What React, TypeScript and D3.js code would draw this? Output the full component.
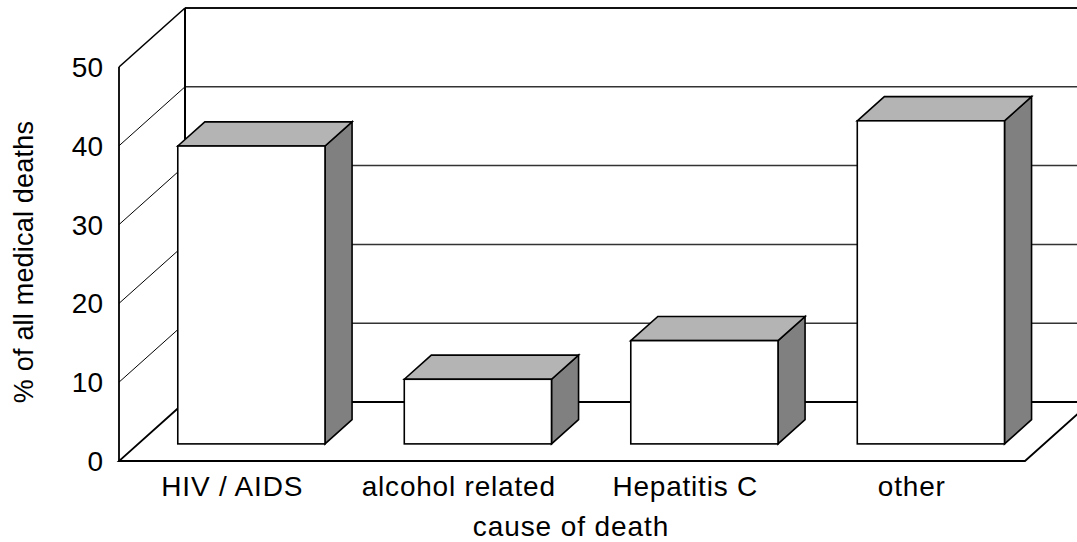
import React from 'react';
import * as d3 from 'd3';

// data
const categories = ['HIV / AIDS', 'alcohol related', 'Hepatitis C', 'other'];
const deathShare = [37.8, 8.2, 13.1, 41.0];
const yTicks = [0, 10, 20, 30, 40, 50];

const W = 1077, H = 542;
const font = '"Liberation Sans", Arial, sans-serif';

export default function App() {
    // front plane scales
    const x = d3.scaleBand<string>()
        .domain(categories)
        .range([119, 1025])
        .paddingInner(0.35)
        .paddingOuter(0.175);
    const y = d3.scaleLinear().domain([0, 50]).range([461, 67]);

    // depth: 0 = front, 1 = back wall
    const dx = d3.scaleLinear().domain([0, 1]).range([0, 66]);
    const dy = d3.scaleLinear().domain([0, 1]).range([0, -59]);
    const barFront = 0.29, barBack = 0.7;

    const [x0, x1] = x.range();
    const yTop = y(50), yBottom = y(0);
    const bx = dx(1), by = dy(1);

    const pts = (p: number[][]) => p.map(d => d.join(',')).join(' ');

    return (
        <svg width={W} height={H} style={{ position: 'absolute', left: 0, top: 0, background: '#fff' }}>
            {/* back wall gridlines */}
            {yTicks.filter(t => t > 0 && t < 50).map(t => (
                <line key={'g' + t} x1={x0 + bx} x2={x1 + bx} y1={y(t) + by} y2={y(t) + by}
                    stroke="#333" strokeWidth={1.5} />
            ))}
            <line x1={x0 + bx} x2={x1 + bx} y1={yTop + by} y2={yTop + by} stroke="#111" strokeWidth={1.8} />
            {/* side wall gridlines */}
            {yTicks.filter(t => t > 0 && t < 50).map(t => (
                <line key={'s' + t} x1={x0} x2={x0 + bx} y1={y(t)} y2={y(t) + by}
                    stroke="#000" strokeWidth={1} />
            ))}
            <line x1={x0} x2={x0 + bx} y1={yTop} y2={yTop + by} stroke="#000" strokeWidth={1.6} />
            <line x1={x0 + bx} x2={x0 + bx} y1={yTop + by} y2={yBottom + by} stroke="#000" strokeWidth={2} />
            <line x1={x0} x2={x0} y1={yTop} y2={yBottom} stroke="#000" strokeWidth={1.8} />
            {/* floor */}
            <polygon points={pts([[x0, yBottom], [x1, yBottom], [x1 + bx, yBottom + by], [x0 + bx, yBottom + by]])}
                fill="none" stroke="#000" strokeWidth={1.8} strokeLinejoin="miter" />

            {/* bars */}
            {categories.map((c, i) => {
                const left = x(c)! + dx(barFront);
                const right = left + x.bandwidth();
                const bottom = y(0) + dy(barFront);
                const top = y(deathShare[i]) + dy(barFront);
                const ox = dx(barBack) - dx(barFront);
                const oy = dy(barBack) - dy(barFront);
                return (
                    <g key={c} stroke="#000" strokeWidth={1.6} strokeLinejoin="miter">
                        <polygon points={pts([[right, top], [right + ox, top + oy], [right + ox, bottom + oy], [right, bottom]])}
                            fill="#808080" />
                        <polygon points={pts([[left, top], [left + ox, top + oy], [right + ox, top + oy], [right, top]])}
                            fill="#b4b4b4" />
                        <rect x={left} y={top} width={right - left} height={bottom - top} fill="#fff" />
                    </g>
                );
            })}

            {/* y tick labels */}
            {yTicks.map(t => (
                <text key={'t' + t} x={103} y={y(t)} dy="0.36em" textAnchor="end"
                    fontFamily={font} fontSize={28} fill="#000">{t}</text>
            ))}
            {/* category labels */}
            {categories.map(c => (
                <text key={'c' + c} x={x(c)! + x.bandwidth() / 2} y={496} textAnchor="middle"
                    fontFamily={font} fontSize={28} letterSpacing={0.8} fill="#000">{c}</text>
            ))}
            <text x={571} y={536} textAnchor="middle" fontFamily={font} fontSize={28} letterSpacing={0.9}>
                cause of death
            </text>
            <text transform="translate(33,262) rotate(-90)" textAnchor="middle" fontFamily={font} fontSize={27}
                letterSpacing={0.2}>
                % of all medical deaths
            </text>
        </svg>
    );
}
